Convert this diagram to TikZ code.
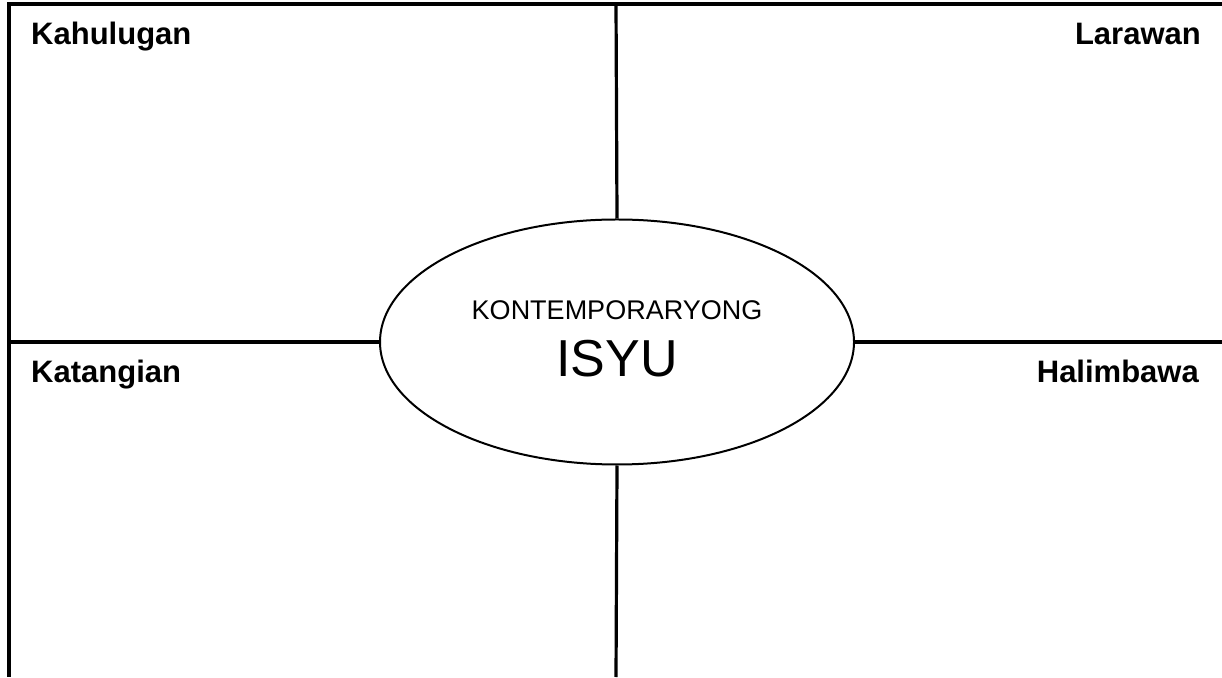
\documentclass[tikz,border=0pt]{standalone}
\usepackage{fontspec}
\setmainfont{Liberation Sans}
\usetikzlibrary{shapes.geometric}

\begin{document}
\begin{tikzpicture}[x=1pt,y=1pt]
\definecolor{ink}{HTML}{000000}
\tikzset{frame/.style={draw=ink,line width=3.2pt},
  corner/.style={font=\fontsize{31}{35}\selectfont\bfseries,text=ink,inner sep=0pt}}
\useasboundingbox (0,0) rectangle (1222,677);
\coordinate (tl) at (9,673);
\coordinate (tr) at (1222,673);
\coordinate (bl) at (9,0);
\coordinate (ml) at (9,335);
\coordinate (mr) at (1222,335);
\coordinate (tc) at (616,673);
\coordinate (bc) at (616,0);
\node[ellipse,draw=ink,line width=2pt,minimum width=474,minimum height=245,inner sep=0pt] (issue) at (617,335) {};
\node[anchor=base,inner sep=0pt,font=\fontsize{27}{31}\selectfont] (kont) at (617,357) {KONTEMPORARYONG};
\node[anchor=base,inner sep=0pt,font=\fontsize{52}{58}\selectfont] (isyu) at (617,300) {ISYU};
\draw[frame] (tr) -- (tl) -- (bl);
\draw[frame] (ml) -- (issue.west);
\draw[frame] (issue.east) -- (mr);
\draw[frame] (tc) -- (issue.north);
\draw[frame] (issue.south) -- (bc);
\node[corner,anchor=base west] (kahulugan) at (31,632) {Kahulugan};
\node[corner,anchor=base east] (larawan) at (1201,632) {Larawan};
\node[corner,anchor=base west] (katangian) at (31,294) {Katangian};
\node[corner,anchor=base east] (halimbawa) at (1199,294) {Halimbawa};
\end{tikzpicture}
\end{document}
